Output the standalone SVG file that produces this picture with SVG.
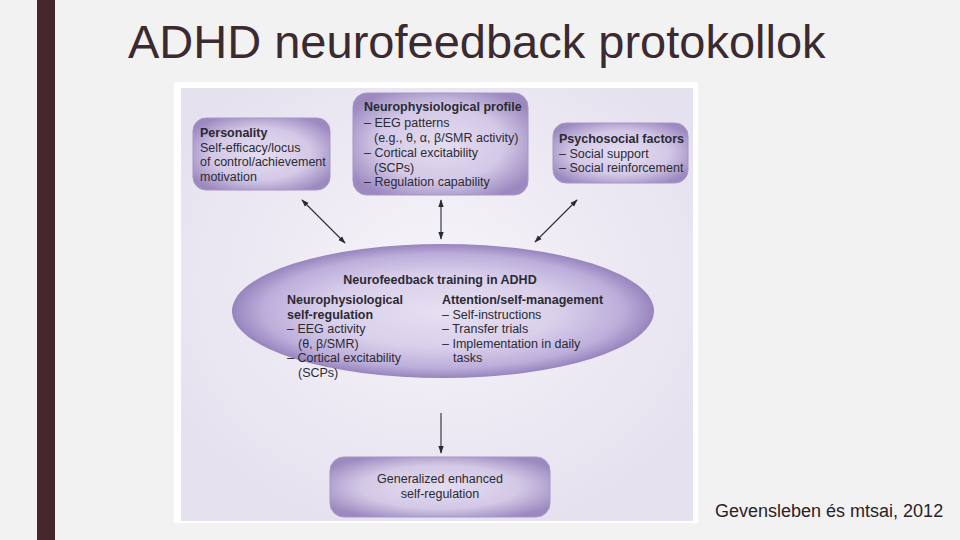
<svg xmlns="http://www.w3.org/2000/svg" width="960" height="540" viewBox="0 0 960 540">
<style>
  .t{font-family:"Liberation Sans",Arial,sans-serif;font-size:12.5px;fill:#2b2a33}
  .b{font-weight:bold}
  .box{fill:url(#g);stroke:#a696c6;stroke-width:1}
  .c{stroke:#2b2a33;stroke-width:1.1;fill:none}
</style>
<defs>
  <radialGradient id="g" cx="0.5" cy="0.5" r="0.6">
    <stop offset="0" stop-color="#e4ddf0"/>
    <stop offset="0.6" stop-color="#d3c8e6"/>
    <stop offset="1" stop-color="#9c89c0"/>
  </radialGradient>
  <radialGradient id="ge" cx="0.5" cy="0.5" r="0.5">
    <stop offset="0" stop-color="#e6e0f1"/>
    <stop offset="0.55" stop-color="#d9cfea"/>
    <stop offset="0.85" stop-color="#bcaedb"/>
    <stop offset="1" stop-color="#9784bd"/>
  </radialGradient>
  <radialGradient id="bg" cx="0.5" cy="0.45" r="0.6">
    <stop offset="0" stop-color="#f6f4f9"/>
    <stop offset="1" stop-color="#e6e1ef"/>
  </radialGradient>
  <marker id="ah" viewBox="0 0 10 10" refX="9" refY="5" markerWidth="7" markerHeight="7" orient="auto-start-reverse">
    <path d="M0,1.5 L10,5 L0,8.5 z" fill="#2b2a33"/>
  </marker>
</defs>
<rect width="960" height="540" fill="#f2f2f2"/>
<rect x="37" y="0" width="18" height="540" fill="#45272d"/>
<text x="128" y="58" font-family="Liberation Sans,Arial,sans-serif" font-size="47" fill="#3b2a30">ADHD neurofeedback protokollok</text>
<text x="715" y="517" font-family="Liberation Sans,Arial,sans-serif" font-size="18" fill="#2a2226">Gevensleben és mtsai, 2012</text>

<rect x="174" y="82" width="524" height="441" fill="#ffffff"/>
<rect x="181" y="88" width="512" height="433" fill="url(#bg)"/>

<g id="connectors">
  <line class="c" x1="302" y1="200" x2="345" y2="243" marker-start="url(#ah)" marker-end="url(#ah)"/>
  <line class="c" x1="441" y1="200" x2="441" y2="239" marker-start="url(#ah)" marker-end="url(#ah)"/>
  <line class="c" x1="577" y1="200" x2="535" y2="242" marker-start="url(#ah)" marker-end="url(#ah)"/>
  <line class="c" x1="441" y1="413" x2="441" y2="453" marker-end="url(#ah)"/>
</g>

<g id="personality">
  <rect class="box" x="193" y="118" width="137" height="72" rx="13"/>
  <text class="t b" x="200" y="137">Personality</text>
  <text class="t" x="200" y="152">Self-efficacy/locus</text>
  <text class="t" x="200" y="166">of control/achievement</text>
  <text class="t" x="200" y="181">motivation</text>
</g>

<g id="neuro-profile">
  <rect class="box" x="353" y="93" width="175" height="102" rx="14"/>
  <text class="t b" x="364" y="111">Neurophysiological profile</text>
  <text class="t" x="364" y="127">– EEG patterns</text>
  <text class="t" x="374" y="142">(e.g., θ, α, β/SMR activity)</text>
  <text class="t" x="364" y="157">– Cortical excitability</text>
  <text class="t" x="374" y="172">(SCPs)</text>
  <text class="t" x="364" y="186">– Regulation capability</text>
</g>

<g id="psychosocial">
  <rect class="box" x="553" y="123" width="135" height="60" rx="13"/>
  <text class="t b" x="559" y="143">Psychosocial factors</text>
  <text class="t" x="559" y="158">– Social support</text>
  <text class="t" x="559" y="172">– Social reinforcement</text>
</g>

<g id="training">
  <ellipse cx="443" cy="311" rx="211" ry="67" fill="url(#ge)"/>
  <text class="t b" x="440" y="284" text-anchor="middle">Neurofeedback training in ADHD</text>
  <text class="t b" x="287" y="304">Neurophysiological</text>
  <text class="t b" x="287" y="319">self-regulation</text>
  <text class="t" x="287" y="333">– EEG activity</text>
  <text class="t" x="298" y="348">(θ, β/SMR)</text>
  <text class="t" x="287" y="362">– Cortical excitability</text>
  <text class="t" x="298" y="377">(SCPs)</text>
  <text class="t b" x="442" y="304">Attention/self-management</text>
  <text class="t" x="442" y="319">– Self-instructions</text>
  <text class="t" x="442" y="333">– Transfer trials</text>
  <text class="t" x="442" y="348">– Implementation in daily</text>
  <text class="t" x="453" y="362">tasks</text>
</g>

<g id="generalized">
  <rect class="box" x="330" y="457" width="220" height="60" rx="14"/>
  <text class="t" x="440" y="483" text-anchor="middle">Generalized enhanced</text>
  <text class="t" x="440" y="498" text-anchor="middle">self-regulation</text>
</g>
</svg>
